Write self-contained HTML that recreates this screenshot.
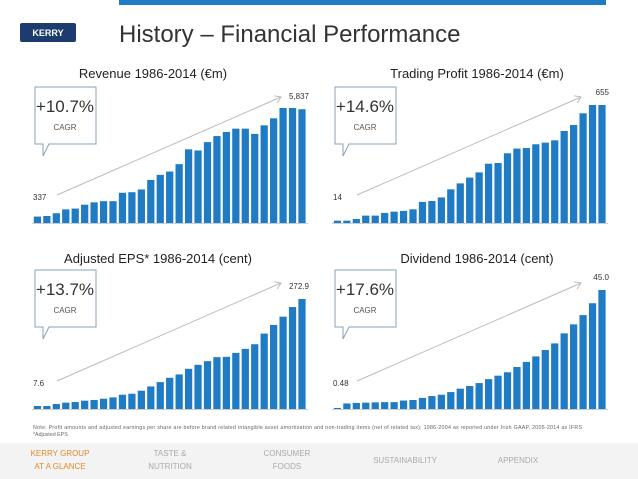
<!DOCTYPE html>
<html><head><meta charset="utf-8">
<style>
body{margin:0;width:638px;height:479px;background:#fff;overflow:hidden;font-family:"Liberation Sans",sans-serif;}
svg{display:block}
</style></head>
<body>
<svg width="638" height="479" viewBox="0 0 638 479" xmlns="http://www.w3.org/2000/svg">
<defs>
<marker id="ah" markerWidth="8" markerHeight="8" refX="6" refY="4" orient="auto"><path d="M0,0 L6,4 L0,8" fill="none" stroke="#bbb" stroke-width="1"/></marker>
</defs>
<rect x="119" y="0" width="487" height="5" fill="#1f7cc4"/>
<g>
<rect x="20" y="23" width="56" height="19" rx="2" fill="#1d3b6e"/>
<text x="48" y="36" font-size="9" font-weight="bold" fill="#fff" text-anchor="middle">KERRY</text>
</g>
<text x="119" y="42" font-size="24" fill="#333">History – Financial Performance</text>
<g id="charts"></g>
<text x="33" y="429" font-size="5.3" fill="#666" textLength="549">Note: Profit amounts and adjusted earnings per share are before brand related intangible asset amortisation and non-trading items (net of related tax); 1986-2004 as reported under Irish GAAP, 2005-2014 as IFRS</text>
<text x="33" y="436" font-size="5.3" fill="#666">*Adjusted EPS</text>
<rect x="0" y="443" width="638" height="36" fill="#f3f3f3"/>
<g font-size="8" text-anchor="middle">
<text x="60" y="456" fill="#e08a2a">KERRY GROUP</text>
<text x="60" y="469" fill="#e08a2a">AT A GLANCE</text>
<text x="170" y="456" fill="#aaa">TASTE &amp;</text>
<text x="170" y="469" fill="#aaa">NUTRITION</text>
<text x="287" y="456" fill="#aaa">CONSUMER</text>
<text x="287" y="469" fill="#aaa">FOODS</text>
<text x="405" y="463" fill="#aaa">SUSTAINABILITY</text>
<text x="518" y="463" fill="#aaa">APPENDIX</text>
</g>
</svg>
<script>
const revenueValues=[330,360,500,700,740,940,1060,1120,1120,1550,1580,1720,2210,2470,2640,3020,3780,3720,4150,4460,4670,4840,4840,4570,5010,5370,5900,5900,5837];
const profitValues=[13,13,22,41,41,56,63,67,76,117,122,142,187,220,252,281,329,333,387,413,416,437,446,459,511,544,609,655,655];
const epsValues=[7.4,7.4,12.4,15.7,17.3,20.6,22.3,25.5,28.8,35.4,37.9,45.3,56,66.7,77.5,85.7,99.7,109.6,118.7,128.6,129.4,139.3,149.2,160.7,187.1,208.5,229.1,253,272.9];
const dividendValues=[0.4,2.1,2.3,2.4,2.5,2.6,2.6,3.2,3.4,4.2,4.9,5.4,6.4,7.7,8.7,9.8,11.3,12.6,13.9,15.9,17.8,19.9,22.3,24.8,28.6,32,35.5,40,45];
const chartTitles=["Revenue 1986-2014 (€m)","Trading Profit 1986-2014 (€m)","Adjusted EPS* 1986-2014 (cent)","Dividend 1986-2014 (cent)"];
const cagrLabels=["+10.7%","+14.6%","+13.7%","+17.6%"];
const startLabels=["337","14","7.6","0.48"];
const endLabels=["5,837","655","272.9","45.0"];
const NS="http://www.w3.org/2000/svg";
const root=document.getElementById('charts');
function mk(tag,attrs,parent,text){const e=document.createElementNS(NS,tag);for(const k in attrs)e.setAttribute(k,attrs[k]);if(text!==undefined)e.textContent=text;parent.appendChild(e);return e;}
const layout=[
 {x0:33,x1:307,base:223,maxH:115,values:revenueValues,ty:78,boxY:87,titleX:153},
 {x0:333,x1:607,base:223,maxH:118,values:profitValues,ty:78,boxY:87,titleX:477},
 {x0:33,x1:307,base:409,maxH:110,values:epsValues,ty:263,boxY:270,titleX:158},
 {x0:333,x1:607,base:409,maxH:119,values:dividendValues,ty:263,boxY:270,titleX:477}
];
layout.forEach((c,i)=>{
 const g=mk('g',{},root);
 
 
 const t=mk('text',{x:c.titleX,y:c.ty,'font-size':13,fill:'#222','text-anchor':'middle'},g,chartTitles[i]);
 
 
 const vals=c.values, n=vals.length, maxV=Math.max(...vals);
 const pitch=(c.x1-c.x0)/n;
 const yS=v=>c.base-v/maxV*c.maxH;
 vals.forEach((v,j)=>{
  const r=mk('rect',{x:c.x0+j*pitch+0.8,y:yS(v),width:pitch-2.2,height:c.base-yS(v),fill:'#1f7cc4'},g);
  
  
 });
 const ax=mk('line',{x1:c.x0-1,x2:c.x1+1,y1:c.base+0.5,y2:c.base+0.5,stroke:'#ccc','stroke-width':1},g);
 
 
 const a=mk('line',{x1:c.x0+24,y1:c.base-28,x2:c.x1-26,y2:c.base-126,stroke:'#bbb','stroke-width':1,'marker-end':'url(#ah)'},g);
 
 
 const sl=mk('text',{x:c.x0,y:c.base-23,'font-size':8,fill:'#333'},g,startLabels[i]);
 
 
 const el=mk('text',{x:c.x1+2,y:yS(vals[n-1])-10,'font-size':8,fill:'#333','text-anchor':'end'},g,endLabels[i]);
 
 
 const bx=c.x0+2, by=c.boxY;
 const cb=mk('path',{d:`M${bx},${by} H${bx+61} V${by+57} H${bx+14} L${bx+8},${by+69} V${by+57} H${bx} Z`,fill:'#fff',stroke:'#8aa0b4','stroke-width':1},g);
 
 
 const ct=mk('text',{x:bx+30,y:by+25,'font-size':17,fill:'#333','text-anchor':'middle'},g,cagrLabels[i]);
 
 
 const cl=mk('text',{x:bx+30,y:by+43,'font-size':8,fill:'#555','text-anchor':'middle'},g,'CAGR');
 
 
});
</script>
</body></html>
